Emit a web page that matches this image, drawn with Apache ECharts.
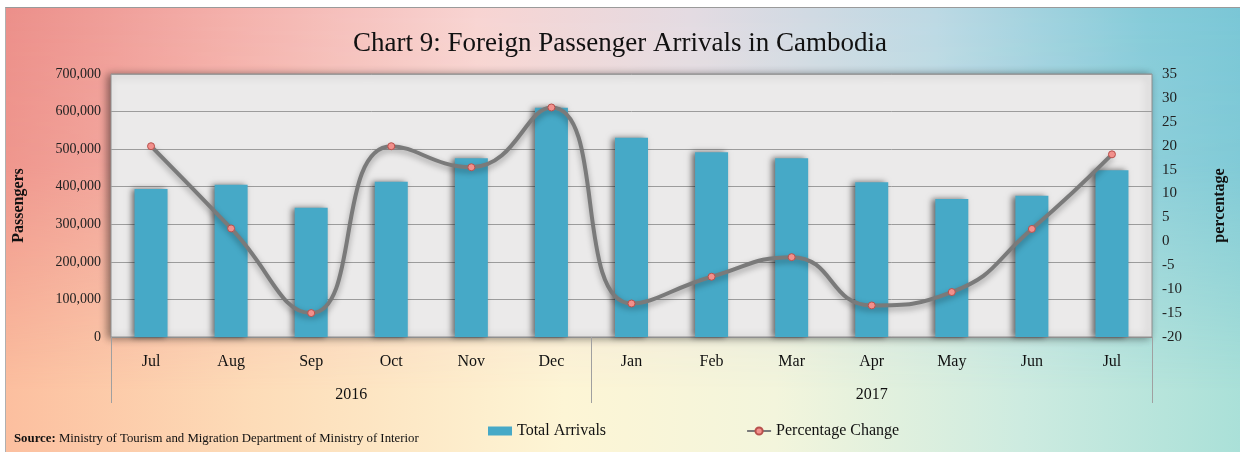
<!DOCTYPE html>
<html>
<head>
<meta charset="utf-8">
<script src="https://cdn.jsdelivr.net/npm/echarts@6/dist/echarts.min.js"></script>
<style>
  html, body { margin: 0; padding: 0; width: 1240px; height: 452px; overflow: hidden; background: #fff; }
  #frame { position: absolute; left: 5px; top: 7px; width: 1240px; height: 450px; border-top: 1px solid #9a9a9a; border-left: 1px solid #b0b0b0; overflow: hidden; }
  #bgBottom { position: absolute; left: 0; top: 0; width: 100%; height: 100%;
    background: linear-gradient(to right, #fcbf9f 0%, #fddcb8 20%, #fdf5d5 45%, #f3f5dc 62%, #cdebe0 82%, #a9e0d8 100%); }
  #bgTop { position: absolute; left: 0; top: 0; width: 100%; height: 100%;
    background: linear-gradient(to right, #ec8f8a 0%, #f4b0ab 18%, #f8d4d2 38%, #e4dbe2 55%, #bcd9e4 75%, #86cbd9 92%, #79c6d6 100%);
    -webkit-mask-image: linear-gradient(to bottom, rgba(0,0,0,1) 0%, rgba(0,0,0,0.85) 35%, rgba(0,0,0,0.0) 85%);
    mask-image: linear-gradient(to bottom, rgba(0,0,0,1) 0%, rgba(0,0,0,0.85) 35%, rgba(0,0,0,0.0) 85%); }
  #chart { position: absolute; left: 0; top: 0; width: 1240px; height: 452px; }
</style>
</head>
<body>
<div id="frame"><div id="bgBottom"></div><div id="bgTop"></div></div>
<div id="chart"></div>
<script>
// ---- data ----
var months = ['Jul', 'Aug', 'Sep', 'Oct', 'Nov', 'Dec', 'Jan', 'Feb', 'Mar', 'Apr', 'May', 'Jun', 'Jul'];
var years = ['2016', '2017'];
var yearSpans = [6, 7]; // number of months in each year group
var totalArrivals = [394000, 405000, 344000, 413000, 476000, 610000, 530000, 492000, 476000, 412000, 367000, 376000, 444000];
var percentageChange = [19.9, 2.7, -15.0, 19.9, 15.5, 28.0, -13.0, -7.4, -3.3, -13.4, -10.6, 2.6, 18.2];

// ---- build year axis (half-month slots, boundary points) ----
var yearSlots = [];
var boundaries = [0];
var acc = 0;
for (var i = 0; i <= months.length * 2; i++) yearSlots.push('');
for (var k = 0; k < years.length; k++) {
  yearSlots[acc * 2 + yearSpans[k]] = years[k];
  acc += yearSpans[k];
  boundaries.push(acc * 2);
}

var serif = 'Liberation Serif, Times New Roman, serif';
var chart = echarts.init(document.getElementById('chart'), null, { renderer: 'canvas' });
chart.setOption({
  backgroundColor: 'transparent',
  animation: false,
  title: {
    text: 'Chart 9: Foreign Passenger Arrivals in Cambodia',
    left: 'center', top: 25,
    textStyle: { fontFamily: serif, fontSize: 27, fontWeight: 'normal', color: '#111' }
  },
  legend: {
    left: 483, top: 418,
    itemGap: 140, itemWidth: 24, itemHeight: 9,
    textStyle: { fontFamily: serif, fontSize: 16, color: '#111' },
    data: [
      { name: 'Total Arrivals', icon: 'rect' },
      { name: 'Percentage Change' }
    ]
  },
  grid: {
    left: 111, right: 88, top: 74, bottom: 115,
    show: true, backgroundColor: '#ebeaea', borderColor: '#8f8f8f', borderWidth: 1,
    shadowColor: 'rgba(0,0,0,0.45)', shadowBlur: 8, shadowOffsetX: -3, shadowOffsetY: 1
  },
  xAxis: [
    {
      type: 'category', data: months, position: 'bottom',
      axisTick: { show: false },
      axisLine: { show: true, onZero: false, lineStyle: { color: '#8f8f8f' } },
      axisLabel: { fontFamily: serif, fontSize: 16, color: '#111', margin: 17, interval: 0 }
    },
    {
      type: 'category', data: yearSlots, position: 'bottom', boundaryGap: false,
      axisLine: { show: false, onZero: false },
      axisTick: { show: true, length: 66, lineStyle: { color: '#a0a0a0' },
        interval: function (idx) { return boundaries.indexOf(idx) >= 0; } },
      axisLabel: { fontFamily: serif, fontSize: 16, color: '#111', margin: 50, interval: 0 }
    }
  ],
  yAxis: [
    {
      type: 'value', min: 0, max: 700000, interval: 100000,
      name: 'Passengers', nameLocation: 'middle', nameRotate: 90, nameGap: 84,
      nameTextStyle: { fontFamily: serif, fontSize: 16, fontWeight: 'bold', color: '#111' },
      axisLine: { show: false }, axisTick: { show: false },
      axisLabel: { fontFamily: serif, fontSize: 14, color: '#222', margin: 10,
        formatter: function (v) { return v.toLocaleString('en-US'); } },
      splitLine: { lineStyle: { color: '#9c9c9c', width: 1 } }
    },
    {
      type: 'value', min: -20, max: 35, interval: 5, position: 'right',
      name: 'percentage', nameLocation: 'middle', nameRotate: 90, nameGap: 60,
      nameTextStyle: { fontFamily: serif, fontSize: 16, fontWeight: 'bold', color: '#111' },
      axisLine: { show: false }, axisTick: { show: false },
      axisLabel: { fontFamily: serif, fontSize: 15, color: '#222', margin: 10 },
      splitLine: { show: false }
    }
  ],
  series: [
    {
      name: 'Total Arrivals', type: 'bar', data: totalArrivals, barWidth: 33,
      xAxisIndex: 0, yAxisIndex: 0,
      itemStyle: { color: '#46a9c7', shadowColor: 'rgba(0,0,0,0.55)', shadowBlur: 6, shadowOffsetX: -3, shadowOffsetY: 0 }
    },
    {
      name: 'Percentage Change', type: 'line', data: percentageChange, smooth: 0.5,
      xAxisIndex: 0, yAxisIndex: 1,
      symbol: 'circle', symbolSize: 7,
      lineStyle: { color: '#7a7a7a', width: 4, shadowColor: 'rgba(0,0,0,0.35)', shadowBlur: 6, shadowOffsetY: 3 },
      itemStyle: { color: '#f2908c', borderColor: '#b8504c', borderWidth: 1 }
    }
  ],
  graphic: [
    {
      type: 'text', left: 14, top: 432,
      style: {
        text: '{b|Source:} Ministry of Tourism and Migration Department of Ministry of Interior',
        font: '12.8px ' + serif, fill: '#111',
        rich: { b: { fontFamily: serif, fontSize: 12.8, fontWeight: 'bold', fill: '#111' } }
      }
    }
  ]
});
</script>
</body>
</html>
